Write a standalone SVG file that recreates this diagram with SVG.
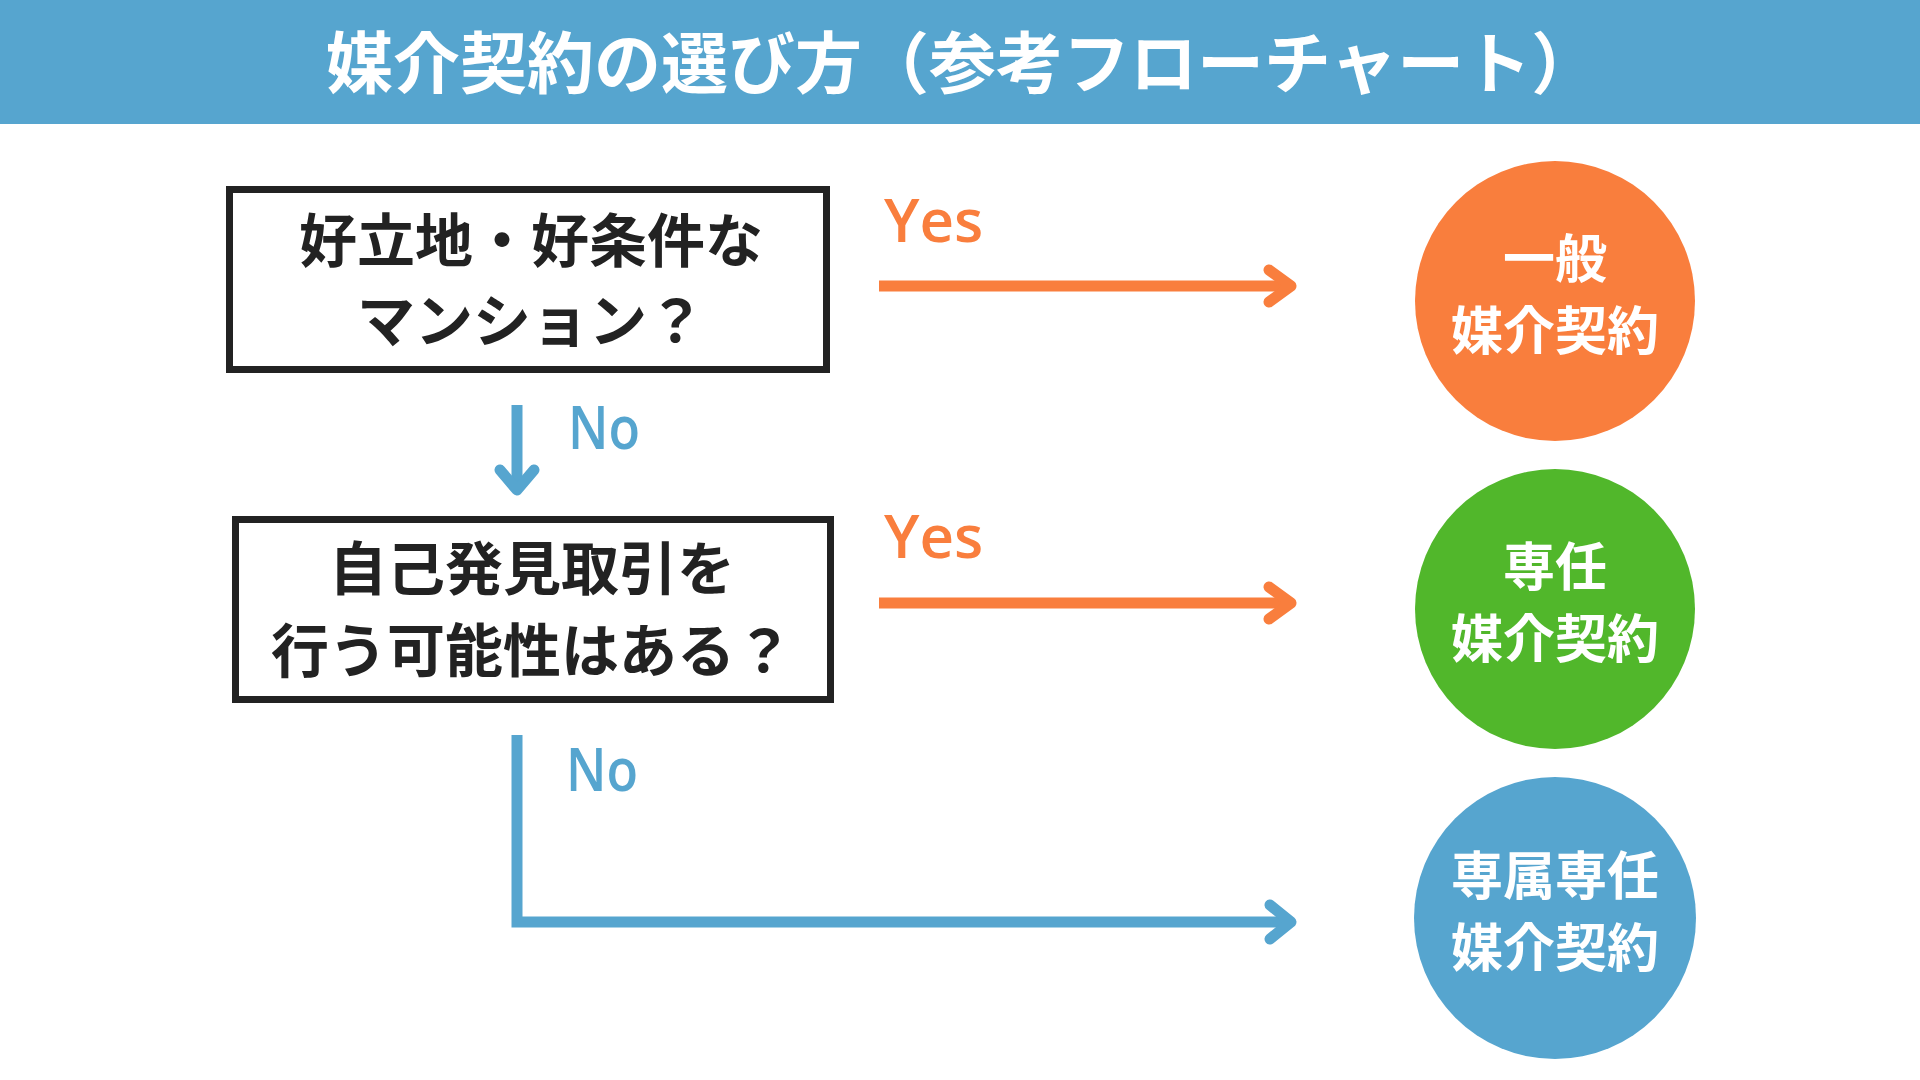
<svg xmlns="http://www.w3.org/2000/svg" width="1920" height="1080" viewBox="0 0 1920 1080">
<style>
.title{font-family:"Noto Sans CJK JP","Noto Sans",sans-serif;font-weight:700;font-size:67px;fill:#ffffff}
.q{font-family:"Noto Sans CJK JP","Noto Sans",sans-serif;font-weight:700;font-size:58px;fill:#222222;text-anchor:middle}
.c{font-family:"Noto Sans CJK JP","Noto Sans",sans-serif;font-weight:700;font-size:52px;fill:#ffffff;text-anchor:middle}
.lbl{font-family:"Open Sans","Noto Sans",sans-serif;font-weight:600;font-size:60px}
.box{fill:#ffffff;stroke:#222222;stroke-width:7}
.ln{fill:none;stroke-width:11}
.hd{fill:none;stroke-width:11;stroke-linecap:round;stroke-linejoin:round}
.or{stroke:#F97E3D}
.bl{stroke:#56A5CF}
</style>
<rect x="0" y="0" width="1920" height="124" fill="#56A5CF"/>
<text class="title" x="326" y="88">媒介契約の選び方（参考フローチャート）</text>

<g id="q1">
<rect class="box" x="229.5" y="189.5" width="597" height="180"/>
<text class="q" x="531" y="262">好立地・好条件な</text>
<text class="q" x="531" y="342">マンション？</text>
</g>
<g id="q2">
<rect class="box" x="235.5" y="519.5" width="595" height="180"/>
<text class="q" x="532" y="590">自己発見取引を</text>
<text class="q" x="532" y="672">行う可能性はある？</text>
</g>
<g id="r1">
<circle cx="1555" cy="301" r="140" fill="#F97E3D"/>
<text class="c" x="1555" y="278">一般</text>
<text class="c" x="1555" y="350">媒介契約</text>
</g>
<g id="r2">
<circle cx="1555" cy="609" r="140" fill="#51B72B"/>
<text class="c" x="1555" y="586">専任</text>
<text class="c" x="1555" y="658">媒介契約</text>
</g>
<g id="r3">
<circle cx="1555" cy="918" r="141" fill="#56A5CF"/>
<text class="c" x="1555" y="895">専属専任</text>
<text class="c" x="1555" y="967">媒介契約</text>
</g>

<g id="connectors">
<line class="ln or" x1="879" y1="286" x2="1290" y2="286"/>
<path class="hd or" d="M1269,270 L1291,286 L1269,302"/>
<line class="ln or" x1="879" y1="603" x2="1290" y2="603"/>
<path class="hd or" d="M1269,587 L1291,603 L1269,619"/>
<line class="ln bl" x1="517" y1="405" x2="517" y2="489"/>
<path class="hd bl" d="M500,470 L517,490 L534,470"/>
<path class="ln bl" stroke-linejoin="miter" d="M517,735 L517,922 L1290,922"/>
<path class="hd bl" d="M1270,905 L1291,922 L1270,939"/>
<text class="lbl" x="884" y="242" fill="#F97E3D">Yes</text>
<text class="lbl" x="884" y="558" fill="#F97E3D">Yes</text>
<text class="lbl" x="568" y="449" fill="#56A5CF" textLength="72" lengthAdjust="spacingAndGlyphs">No</text>
<text class="lbl" x="566" y="791" fill="#56A5CF" textLength="72" lengthAdjust="spacingAndGlyphs">No</text>
</g>
</svg>
